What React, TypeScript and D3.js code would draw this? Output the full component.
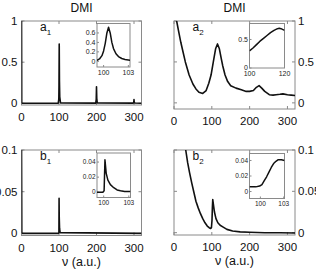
import React from "react";
import * as d3 from "d3";

const W = 316;
const H = 270;
const FONT = "'Liberation Sans', Arial, Helvetica, sans-serif";

// ---- a1: DMI spectrum with sharp resonances ----
const a1Nu = [0, 0.6, 2, 98, 99.5, 100, 100.6, 101.2, 102, 104, 198, 199.3, 200, 200.7, 202, 298, 299.4, 300, 300.6, 302, 320];
const a1Dmi = [1.3, 0.01, 0.002, 0.002, 0.05, 0.22, 0.72, 0.27, 0.08, 0.005, 0.003, 0.05, 0.2, 0.06, 0.006, 0.003, 0.015, 0.045, 0.015, 0.004, 0.002];
const a1InsetNu = [99.2, 99.5, 99.8, 100.0, 100.2, 100.4, 100.6, 100.8, 101.0, 101.2, 101.5, 101.8, 102.2, 102.6, 103.2];
const a1InsetDmi = [0.02, 0.05, 0.12, 0.22, 0.38, 0.6, 0.72, 0.6, 0.4, 0.27, 0.16, 0.1, 0.06, 0.04, 0.02];

// ---- a2: DMI spectrum, broad resonances ----
const a2Nu = [0, 3, 7, 12, 18, 23, 30, 40, 50, 58, 66, 76, 85, 92, 98, 104, 110, 115, 120, 125, 129, 135, 142, 150, 164, 178, 191, 200, 210, 218, 225, 232, 240, 252, 262, 270, 280, 288, 300, 310, 320];
const a2Dmi = [1.4, 1.2, 1.0, 0.88, 0.74, 0.64, 0.5, 0.34, 0.23, 0.17, 0.13, 0.115, 0.15, 0.24, 0.34, 0.5, 0.66, 0.72, 0.66, 0.54, 0.45, 0.34, 0.26, 0.21, 0.18, 0.16, 0.14, 0.14, 0.15, 0.19, 0.21, 0.18, 0.14, 0.1, 0.095, 0.1, 0.105, 0.11, 0.1, 0.095, 0.09];
const a2InsetNu = [100, 102, 104, 106, 108, 110, 112, 114, 116, 117, 118, 120];
const a2InsetDmi = [0.3, 0.35, 0.41, 0.47, 0.52, 0.57, 0.62, 0.66, 0.69, 0.695, 0.69, 0.66];

// ---- b1 ----
const b1Nu = [0, 0.8, 2, 98.5, 99.8, 100.2, 100.6, 101.5, 103, 320];
const b1Dmi = [0.12, 0.001, 0, 0, 0.001, 0.042, 0.02, 0.006, 0.001, 0];
const b1InsetNu = [99.2, 99.9, 100.05, 100.15, 100.3, 100.5, 100.8, 101.2, 101.6, 102.0, 102.5, 103.2];
const b1InsetDmi = [0, 0, 0.002, 0.043, 0.025, 0.016, 0.01, 0.006, 0.003, 0.002, 0.001, 0.001];

// ---- b2 ----
const b2Nu = [25, 31, 36, 41, 47, 53, 58, 64, 70, 76, 82, 88, 93, 97, 99, 100.5, 101.5, 102.5, 104, 107, 111, 116, 122, 129, 140, 155, 175, 200, 240, 280, 320];
const b2Dmi = [0.13, 0.1, 0.085, 0.073, 0.06, 0.048, 0.038, 0.03, 0.023, 0.017, 0.012, 0.008, 0.006, 0.005, 0.006, 0.015, 0.03, 0.04, 0.035, 0.025, 0.017, 0.012, 0.009, 0.007, 0.004, 0.002, 0.001, 0.0005, 0, 0, -0.0003];
const b2InsetNu = [98.6, 99.4, 99.9, 100.2, 100.5, 100.8, 101.1, 101.4, 101.7, 102.0, 102.3, 102.7, 103.1];
const b2InsetDmi = [0.006, 0.006, 0.007, 0.009, 0.014, 0.019, 0.025, 0.031, 0.036, 0.039, 0.041, 0.041, 0.04];

// ---- ticks ----
const nuTicks = [0, 100, 200, 300];
const aTicks = [0, 0.5, 1];
const aTickLabels = ["0", "0.5", "1"];
const bTicks = [0, 0.05, 0.1];
const bTickLabels = ["0", "0.05", "0.1"];
const insetA1Y = [0, 0.2, 0.4, 0.6];
const insetA1YLabels = ["0", "0.2", "0.4", "0.6"];
const insetA2Y = [0, 0.5];
const insetA2YLabels = ["0", "0.5"];
const insetBY = [0, 0.02, 0.04];
const insetBYLabels = ["0", "0.02", "0.04"];
const insetNuNarrow = [100, 103];
const insetNuWide = [100, 120];

const BOX = "#8a8a8a";

type InsetSpec = {
  x0: number; x1: number; y0: number; y1: number;
  xDomain: [number, number]; yDomain: [number, number];
  xs: number[]; ys: number[];
  xTicks: number[]; yTicks: number[]; yLabels: string[];
  fontSize: number;
};

type PanelSpec = {
  id: string;
  x0: number; x1: number; y0: number; y1: number;
  yDomain: [number, number];
  xs: number[]; ys: number[];
  yTicks: number[]; yLabels: string[];
  side: "left" | "right";
  letter: string; sub: string;
  title?: string;
  xLabel?: string;
  inset: InsetSpec;
};

function Inset({ s, id }: { s: InsetSpec; id: string }) {
  const x = d3.scaleLinear().domain(s.xDomain).range([s.x0, s.x1]);
  const y = d3.scaleLinear().domain(s.yDomain).range([s.y1, s.y0]);
  const line = d3.line<number>().x((_, i) => x(s.xs[i])).y((d) => y(d));
  return (
    <g>
      <defs>
        <clipPath id={id}>
          <rect x={s.x0} y={s.y0} width={s.x1 - s.x0} height={s.y1 - s.y0} />
        </clipPath>
      </defs>
      <rect x={s.x0} y={s.y0} width={s.x1 - s.x0} height={s.y1 - s.y0} fill="#fff" stroke={BOX} strokeWidth={1} />
      {s.xTicks.map((t) => (
        <g key={"x" + t}>
          <line x1={x(t)} x2={x(t)} y1={s.y1} y2={s.y1 - 2} stroke={BOX} />
          <text x={x(t)} y={s.y1 + s.fontSize + 1} fontSize={s.fontSize} textAnchor="middle" fill="#222" fontFamily={FONT}>{t}</text>
        </g>
      ))}
      {s.yTicks.map((t, i) => (
        <g key={"y" + t}>
          <line x1={s.x0} x2={s.x0 + 2} y1={y(t)} y2={y(t)} stroke={BOX} />
          <text x={s.x0 - 1.5} y={y(t)} dy="0.35em" fontSize={s.fontSize} textAnchor="end" fill="#222" fontFamily={FONT}>{s.yLabels[i]}</text>
        </g>
      ))}
      <path d={line(s.ys) || ""} fill="none" stroke="#111" strokeWidth={1.5} clipPath={`url(#${id})`} strokeLinejoin="round" />
    </g>
  );
}

function Panel({ p }: { p: PanelSpec }) {
  const x = d3.scaleLinear().domain([0, 320]).range([p.x0, p.x1]);
  const y = d3.scaleLinear().domain(p.yDomain).range([p.y1, p.y0]);
  const line = d3.line<number>().x((_, i) => x(p.xs[i])).y((d) => y(d));
  const cx = (p.x0 + p.x1) / 2;
  const tickLen = 3;
  return (
    <g>
      <defs>
        <clipPath id={p.id}>
          <rect x={p.x0} y={p.y0} width={p.x1 - p.x0} height={p.y1 - p.y0} />
        </clipPath>
      </defs>
      <rect x={p.x0} y={p.y0} width={p.x1 - p.x0} height={p.y1 - p.y0} fill="none" stroke={BOX} strokeWidth={1} />
      {nuTicks.map((t) => (
        <g key={"x" + t}>
          <line x1={x(t)} x2={x(t)} y1={p.y1} y2={p.y1 - tickLen} stroke={BOX} />
          <line x1={x(t)} x2={x(t)} y1={p.y0} y2={p.y0 + tickLen} stroke={BOX} />
          <text x={x(t)} y={p.y1 + 16} fontSize={11.5} textAnchor="middle" fill="#111" fontFamily={FONT}>{t}</text>
        </g>
      ))}
      {p.yTicks.map((t, i) => (
        <g key={"y" + t}>
          <line x1={p.x0} x2={p.x0 + tickLen} y1={y(t)} y2={y(t)} stroke={BOX} />
          <line x1={p.x1} x2={p.x1 - tickLen} y1={y(t)} y2={y(t)} stroke={BOX} />
          {p.side === "left" ? (
            <text x={p.x0 - 4} y={y(t)} dy="0.35em" fontSize={11.5} textAnchor="end" fill="#111" fontFamily={FONT}>{p.yLabels[i]}</text>
          ) : (
            <text x={p.x1 + 3} y={y(t)} dy="0.35em" fontSize={11.5} textAnchor="start" fill="#111" fontFamily={FONT}>{p.yLabels[i]}</text>
          )}
        </g>
      ))}
      <path d={line(p.ys) || ""} fill="none" stroke="#111" strokeWidth={1.6} clipPath={`url(#${p.id})`} strokeLinejoin="round" />
      <text x={p.x0 + 18.5} y={p.y0 + 10} fontSize={12} fill="#111" fontFamily={FONT}>
        {p.letter}
        <tspan fontSize={8} dy={4}>{p.sub}</tspan>
      </text>
      {p.title && (
        <text x={cx} y={12} fontSize={12} textAnchor="middle" fill="#111" fontFamily={FONT}>{p.title}</text>
      )}
      {p.xLabel && (
        <text x={cx} y={p.y1 + 30} fontSize={12.5} textAnchor="middle" fill="#111" fontFamily={FONT}>{p.xLabel}</text>
      )}
      <Inset s={p.inset} id={p.id + "-inset"} />
    </g>
  );
}

const LX0 = 21.5, LX1 = 141.5, RX0 = 174, RX1 = 295;

const panels: PanelSpec[] = [
  {
    id: "pa1", x0: LX0, x1: LX1, y0: 21, y1: 105, yDomain: [-0.02, 1],
    xs: a1Nu, ys: a1Dmi, yTicks: aTicks, yLabels: aTickLabels, side: "left",
    letter: "a", sub: "1", title: "DMI",
    inset: {
      x0: 97, x1: 130, y0: 23.5, y1: 67, xDomain: [99.2, 103.2], yDomain: [-0.12, 0.8],
      xs: a1InsetNu, ys: a1InsetDmi, xTicks: insetNuNarrow, yTicks: insetA1Y, yLabels: insetA1YLabels, fontSize: 7,
    },
  },
  {
    id: "pa2", x0: RX0, x1: RX1, y0: 21, y1: 109, yDomain: [-0.075, 1],
    xs: a2Nu, ys: a2Dmi, yTicks: aTicks, yLabels: aTickLabels, side: "right",
    letter: "a", sub: "2", title: "DMI",
    inset: {
      x0: 249.5, x1: 284.5, y0: 23.5, y1: 68, xDomain: [100, 120], yDomain: [0, 0.78],
      xs: a2InsetNu, ys: a2InsetDmi, xTicks: insetNuWide, yTicks: insetA2Y, yLabels: insetA2YLabels, fontSize: 7,
    },
  },
  {
    id: "pb1", x0: LX0, x1: LX1, y0: 150, y1: 235.5, yDomain: [-0.0025, 0.1],
    xs: b1Nu, ys: b1Dmi, yTicks: bTicks, yLabels: bTickLabels, side: "left",
    letter: "b", sub: "1", xLabel: "ν (a.u.)",
    inset: {
      x0: 97, x1: 130.5, y0: 153, y1: 197.5, xDomain: [99.2, 103.2], yDomain: [-0.007, 0.052],
      xs: b1InsetNu, ys: b1InsetDmi, xTicks: insetNuNarrow, yTicks: insetBY, yLabels: insetBYLabels, fontSize: 6.5,
    },
  },
  {
    id: "pb2", x0: RX0, x1: RX1, y0: 150, y1: 235, yDomain: [-0.0028, 0.1],
    xs: b2Nu, ys: b2Dmi, yTicks: bTicks, yLabels: bTickLabels, side: "right",
    letter: "b", sub: "2", xLabel: "ν (a.u.)",
    inset: {
      x0: 249.5, x1: 284.5, y0: 153.5, y1: 198.5, xDomain: [98.6, 103.1], yDomain: [-0.009, 0.049],
      xs: b2InsetNu, ys: b2InsetDmi, xTicks: insetNuNarrow, yTicks: insetBY, yLabels: insetBYLabels, fontSize: 6.5,
    },
  },
];

export default function App() {
  return (
    <svg width={W} height={H} viewBox={`0 0 ${W} ${H}`} style={{ position: "absolute", left: 0, top: 0, background: "#fff" }}>
      <rect width={W} height={H} fill="#fff" />
      {panels.map((p) => (
        <Panel key={p.id} p={p} />
      ))}
    </svg>
  );
}
